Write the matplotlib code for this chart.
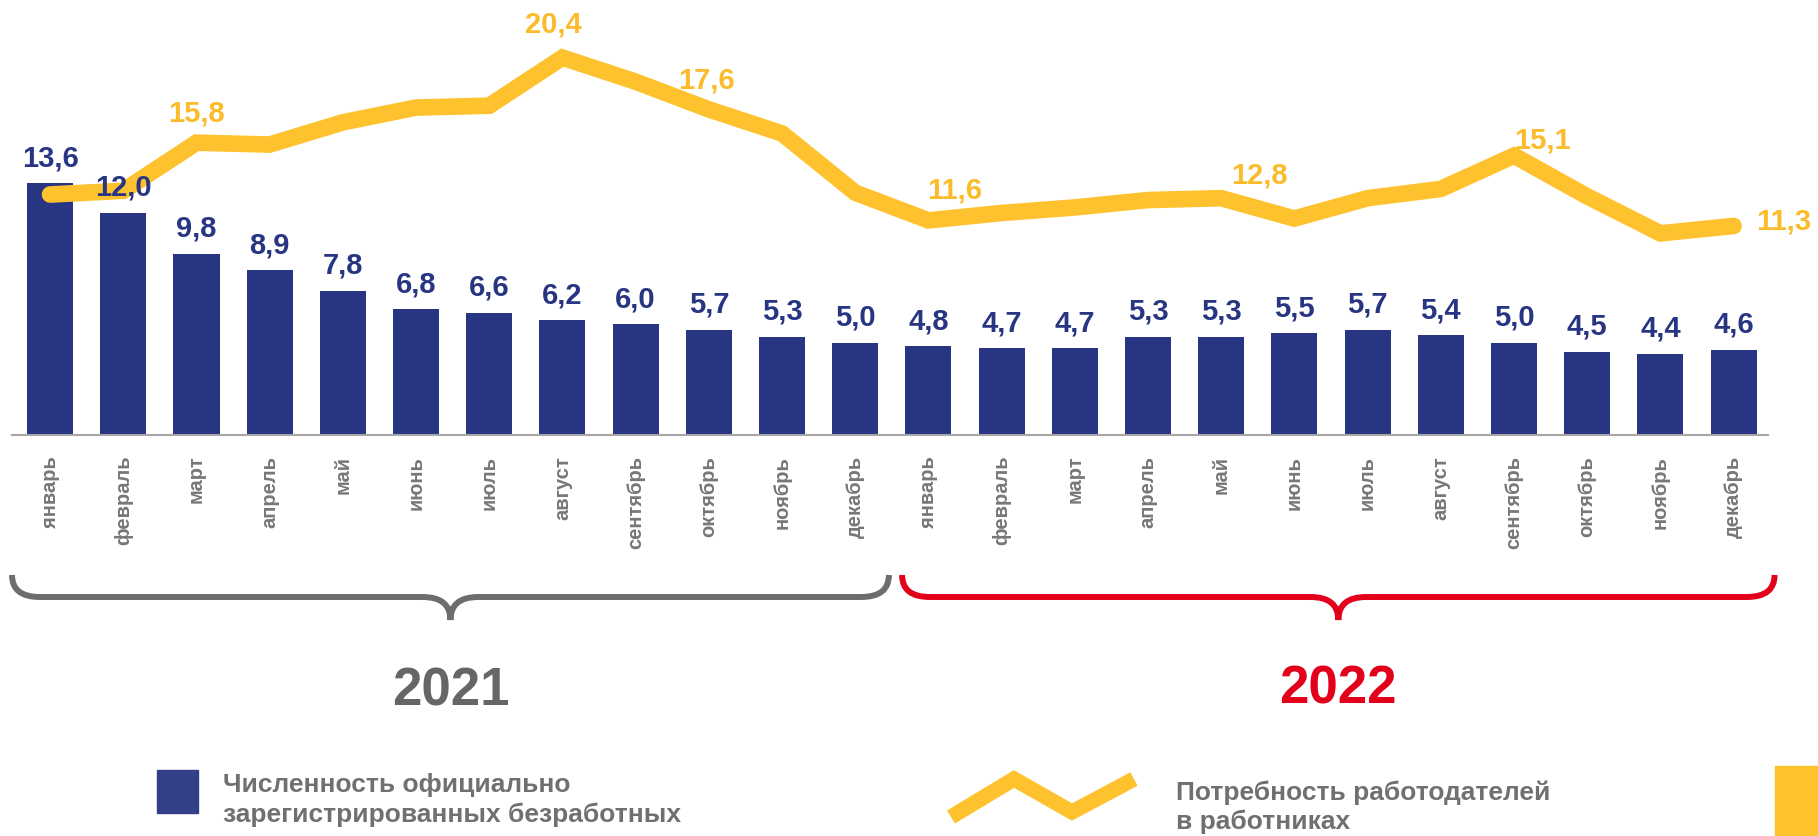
import numpy as np
import matplotlib
matplotlib.use("Agg")
import matplotlib.pyplot as plt
import matplotlib.transforms as mtransforms
from matplotlib.path import Path
from matplotlib.patches import PathPatch, Rectangle
from matplotlib.lines import Line2D

# ===================== данные =====================
month_names = ["январь", "февраль", "март", "апрель", "май", "июнь",
               "июль", "август", "сентябрь", "октябрь", "ноябрь", "декабрь"]
years = ["2021", "2022"]

# численность официально зарегистрированных безработных
unemployed_2021 = [13.6, 12.0, 9.8, 8.9, 7.8, 6.8, 6.6, 6.2, 6.0, 5.7, 5.3, 5.0]
unemployed_2022 = [4.8, 4.7, 4.7, 5.3, 5.3, 5.5, 5.7, 5.4, 5.0, 4.5, 4.4, 4.6]

# потребность работодателей в работниках
demand_2021 = [13.0, 13.2, 15.8, 15.7, 16.9, 17.7, 17.8, 20.4, 19.1, 17.6, 16.3, 13.1]
demand_2022 = [11.6, 12.0, 12.3, 12.7, 12.8, 11.7, 12.8, 13.3, 15.1, 12.9, 10.9, 11.3]

# какие точки линии подписаны (индекс месяца за оба года)
demand_labeled = [2, 7, 9, 12, 16, 20, 23]

# ===================== стиль =====================
NAVY = "#283583"
GOLD = "#FFC22F"
GOLD_TXT = "#FBBB2A"
GRAY = "#6d6d6d"
RED = "#E2001A"

plt.rcParams["font.family"] = ["Liberation Sans", "DejaVu Sans"]
plt.rcParams["font.weight"] = "bold"

months = month_names * 2
unemployed = unemployed_2021 + unemployed_2022
demand = demand_2021 + demand_2022
x = np.arange(len(months))

W, H = 1818, 836
fig = plt.figure(figsize=(W / 100, H / 100), dpi=100)
ax = fig.add_axes([12 / W, 1 - 435 / H, 1756 / W, 23 * 18.5 / H])

ax.bar(x, unemployed, width=0.63, color=NAVY, zorder=2)
ax.plot(x, demand, color=GOLD, lw=12, solid_capstyle="round",
        solid_joinstyle="miter", zorder=3)

ax.set_xlim(-0.52, 23.47)
ax.set_ylim(0, 23)
for s in ["left", "right", "top"]:
    ax.spines[s].set_visible(False)
ax.spines["bottom"].set_color("#a6a6a6")
ax.spines["bottom"].set_linewidth(1.5)
ax.set_yticks([])
ax.set_xticks(x)
ax.set_xticklabels(months, rotation=90, va="top", ha="center",
                   fontsize=14.5, color="#777777", fontweight="bold")
ax.tick_params(axis="x", length=0, pad=15)

def fmt(v):
    return f"{v:.1f}".replace(".", ",")

# подписи столбцов
for xi, v in zip(x, unemployed):
    ax.annotate(fmt(v), (xi, v), xytext=(0, 17), textcoords="offset pixels",
                ha="center", va="baseline", fontsize=21, fontweight="bold",
                color=NAVY, zorder=5)

# подписи линии (сдвиги подобраны вручную, в пикселях)
line_offsets = {2: (0, 21), 7: (-9, 25), 9: (-2, 21), 12: (26, 22),
                16: (38, 15), 20: (28, 7), 23: (23, -4)}
for i in demand_labeled:
    dx, dy = line_offsets[i]
    ha = "left" if i == len(x) - 1 else "center"
    ax.annotate(fmt(demand[i]), (x[i], demand[i]), xytext=(dx, dy),
                textcoords="offset pixels", ha=ha, va="baseline",
                fontsize=21, fontweight="bold", color=GOLD_TXT, zorder=5,
                annotation_clip=False)

# фигурные скобки под подписями месяцев
trans = mtransforms.blended_transform_factory(ax.transData, fig.transFigure)
y_top, y_mid, y_tip = 1 - 575 / H, 1 - 597 / H, 1 - 620 / H
r = 0.38

def brace(x0, x1, color):
    xc = (x0 + x1) / 2
    verts = [(x0, y_top), (x0, y_mid), (x0 + r, y_mid),
             (xc - r, y_mid), (xc, y_mid), (xc, y_tip),
             (xc, y_mid), (xc + r, y_mid),
             (x1 - r, y_mid), (x1, y_mid), (x1, y_top)]
    codes = [Path.MOVETO, Path.CURVE3, Path.CURVE3,
             Path.LINETO, Path.CURVE3, Path.CURVE3,
             Path.CURVE3, Path.CURVE3,
             Path.LINETO, Path.CURVE3, Path.CURVE3]
    p = PathPatch(Path(verts, codes), transform=trans, fill=False,
                  edgecolor=color, lw=4.3, capstyle="butt", clip_on=False)
    fig.add_artist(p)
    return xc

xc1 = brace(x[0] - 0.52, x[11] + 0.46, GRAY)
xc2 = brace(x[12] - 0.36, x[23] + 0.56, RED)

fig.text(xc1, 1 - 692 / H, years[0], transform=trans, ha="center", va="center",
         fontsize=38, fontweight="bold", color="#666666")
fig.text(xc2, 1 - 690 / H, years[1], transform=trans, ha="center", va="center",
         fontsize=38, fontweight="bold", color=RED)

# легенда
fig.add_artist(Rectangle((157 / W, 1 - 813 / H), 41 / W, 43 / H,
                         transform=fig.transFigure, color="#334087"))
fig.text(223 / W, 1 - 792 / H, "Численность официально", fontsize=19,
         fontweight="bold", color="#707070", va="baseline")
fig.text(223 / W, 1 - 822 / H, "зарегистрированных безработных", fontsize=19,
         fontweight="bold", color="#707070", va="baseline")

zig_x = np.array([951, 1014, 1072, 1134]) / W
zig_y = 1 - np.array([817, 779, 812, 779]) / H
fig.add_artist(Line2D(zig_x, zig_y, transform=fig.transFigure, color=GOLD,
                      lw=11, solid_capstyle="butt", solid_joinstyle="miter"))
fig.text(1176 / W, 1 - 800 / H, "Потребность работодателей", fontsize=19,
         fontweight="bold", color="#707070", va="baseline")
fig.text(1176 / W, 1 - 829 / H, "в работниках", fontsize=19,
         fontweight="bold", color="#707070", va="baseline")

# кусок плашки справа внизу
fig.add_artist(Rectangle((1775 / W, 0), 43 / W, 70 / H,
                         transform=fig.transFigure, color=GOLD))

fig.savefig("out.png", dpi=100)
